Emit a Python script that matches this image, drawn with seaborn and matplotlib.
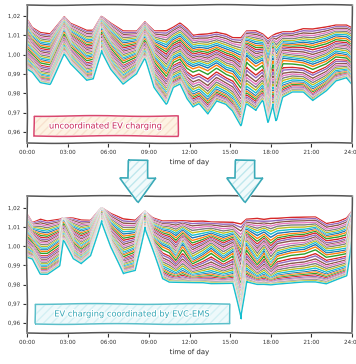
import numpy as np
import pandas as pd
import matplotlib
matplotlib.use("Agg")
import matplotlib.pyplot as plt
import seaborn as sns
from matplotlib import patheffects
from matplotlib.patches import Polygon, Rectangle
from matplotlib.ticker import FuncFormatter

# --- data (voltage in p.u., time in hours) ---
# top panel: upper / middle / lower envelope of the bundle of node voltages
t_top = [0, 0.4, 1.0, 1.7, 2.75, 3.2, 4.4, 4.9, 5.5, 6.2, 7.1, 8.1, 8.7, 9.4, 10.3, 10.8,
         11.3, 11.8, 12.25, 12.7, 13.35, 14.0, 14.7, 15.2, 15.8, 16.2, 16.9, 17.4, 17.8,
         18.15, 18.4, 18.9, 19.6, 20.4, 21.1, 22.1, 22.8, 23.6, 24.0]
top_upper = [1.0184, 1.0141, 1.0116, 1.0110, 1.0197, 1.0162, 1.0124, 1.0124, 1.0197, 1.0162,
             1.0124, 1.0124, 1.0172, 1.0124, 1.0124, 1.0141, 1.0162, 1.0133, 1.0098, 1.0103,
             1.0107, 1.0116, 1.0107, 1.0090, 1.0090, 1.0124, 1.0124, 1.0107, 1.0081, 1.0098,
             1.0107, 1.0116, 1.0116, 1.0133, 1.0133, 1.0145, 1.0155, 1.0155, 1.0141]
top_mid = [1.0055, 1.0021, 0.9978, 0.9969, 1.0124, 1.0055, 0.9986, 0.9995, 1.0133, 1.0055,
           0.9978, 1.0003, 1.0090, 0.9986, 0.9917, 0.9986, 1.0003, 0.9960, 0.9943, 0.9952,
           0.9934, 0.9960, 0.9926, 0.9917, 0.9866, 1.0003, 0.9960, 0.9978, 0.9831, 0.9986,
           0.9866, 0.9986, 0.9978, 0.9969, 0.9952, 0.9978, 1.0012, 1.0003, 0.9978]
top_lower = [0.9926, 0.9909, 0.9857, 0.9848, 1.0003, 0.9952, 0.9866, 0.9874, 1.0021, 0.9926,
             0.9848, 0.9900, 0.9978, 0.9831, 0.9745, 0.9831, 0.9848, 0.9771, 0.9728, 0.9745,
             0.9693, 0.9762, 0.9745, 0.9710, 0.9633, 0.9745, 0.9710, 0.9762, 0.9650, 0.9745,
             0.9659, 0.9779, 0.9805, 0.9805, 0.9762, 0.9814, 0.9866, 0.9883, 0.9848]

# bottom panel
t_bot = [0, 0.4, 1.0, 1.5, 2.4, 2.7, 3.4, 4.0, 4.7, 5.5, 6.2, 7.1, 8.0, 8.7, 9.3, 10.0,
         10.5, 11.0, 11.5, 12.2, 13.0, 13.6, 14.5, 15.2, 15.8, 16.2, 17.0, 17.5, 18.0,
         18.5, 19.5, 20.5, 21.3, 22.1, 23.0, 23.6, 24.0]
bot_upper = [1.0169, 1.0125, 1.0143, 1.0134, 1.0143, 1.0151, 1.0148, 1.0137, 1.0134, 1.0200,
             1.0169, 1.0143, 1.0137, 1.0186, 1.0151, 1.0134, 1.0134, 1.0134, 1.0134, 1.0130,
             1.0130, 1.0125, 1.0125, 1.0125, 1.0117, 1.0143, 1.0148, 1.0143, 1.0148, 1.0148,
             1.0151, 1.0151, 1.0151, 1.0117, 1.0130, 1.0148, 1.0186]
bot_mid = [1.0073, 1.0038, 0.9986, 0.9986, 1.0030, 1.0134, 1.0030, 0.9995, 1.0030, 1.0186,
           1.0047, 0.9960, 0.9986, 1.0169, 1.0047, 1.0012, 0.9995, 0.9943, 1.0012, 0.9925,
           0.9960, 0.9995, 0.9943, 0.9978, 0.9821, 1.0012, 0.9925, 0.9978, 0.9908, 0.9960,
           0.9978, 0.9986, 1.0012, 0.9969, 0.9978, 0.9986, 1.0134]
bot_lower = [0.9943, 0.9934, 0.9856, 0.9856, 0.9899, 1.0030, 0.9934, 0.9908, 0.9951, 1.0134,
             0.9995, 0.9856, 0.9873, 1.0099, 0.9978, 0.9830, 0.9812, 0.9812, 0.9812, 0.9812,
             0.9812, 0.9807, 0.9807, 0.9807, 0.9621, 0.9817, 0.9803, 0.9803, 0.9800, 0.9803,
             0.9807, 0.9812, 0.9812, 0.9803, 0.9830, 0.9847, 1.0047]

# relative position of each node inside the bundle (0 = top, 1 = bottom)
line_fracs = [0.0, 0.03, 0.06, 0.09, 0.12, 0.15, 0.18, 0.21, 0.24, 0.27, 0.30, 0.33, 0.36,
              0.39, 0.42, 0.45, 0.48, 0.51, 0.54, 0.58, 0.63, 0.66, 0.70, 0.73, 0.76, 0.79,
              0.82, 0.85, 0.87, 0.89, 0.91, 0.93, 0.95, 0.96, 0.97, 0.985, 1.0]

xtick_pos = [0, 3, 6, 9, 12, 15, 18, 21, 24]
xtick_labels = ["00:00", "03:00", "06:00", "09:00", "12:00", "15:00", "18:00", "21:00", "24:00"]
ytick_vals = [0.96, 0.97, 0.98, 0.99, 1.00, 1.01, 1.02]

# --- style ---
sns.set_theme(style="ticks")
plt.xkcd(scale=0.4, length=120, randomness=2)
plt.rcParams.update({
    "font.family": ["DejaVu Sans"],
    "path.effects": [patheffects.withStroke(linewidth=1.5, foreground="w")],
    "axes.linewidth": 1.1,
    "axes.edgecolor": "#555555",
    "xtick.major.size": 3,
    "ytick.major.size": 3,
    "xtick.major.width": 0.8,
    "ytick.major.width": 0.8,
    "xtick.color": "#333333",
    "ytick.color": "#333333",
})

tab10 = sns.color_palette("tab10")
palette = [tab10[(k + 3) % 10] for k in range(len(line_fracs))]


def bundle(t, upper, mid, lower):
    upper, mid, lower = np.array(upper), np.array(mid), np.array(lower)
    frames = []
    for k, f in enumerate(line_fracs):
        if f <= 0.5:
            v = upper + (mid - upper) * (f / 0.5)
        else:
            v = mid + (lower - mid) * ((f - 0.5) / 0.5)
        frames.append(pd.DataFrame({"time": t, "voltage": v, "node": f"n{k:02d}"}))
    return pd.concat(frames, ignore_index=True)


def draw_panel(ax, df, ylim):
    sns.lineplot(data=df, x="time", y="voltage", hue="node", palette=palette,
                 legend=False, estimator=None, sort=False, lw=1.0, ax=ax)
    ax.set_xlim(0, 24)
    ax.set_ylim(*ylim)
    ax.set_xticks(xtick_pos)
    ax.set_xticklabels(xtick_labels, fontsize=4)
    ax.set_yticks(ytick_vals)
    ax.yaxis.set_major_formatter(FuncFormatter(lambda v, p: f"{v:.2f}".replace(".", ",")))
    ax.tick_params(axis="y", labelsize=4, pad=2)
    ax.tick_params(axis="x", pad=2)
    ax.set_xlabel("time of day", fontsize=5, labelpad=3)
    ax.set_ylabel("voltage in p.u.", fontsize=5)
    ax.yaxis.set_label_coords(-0.09, 0.5)
    for s in ax.spines.values():
        s.set_visible(True)


def label_box(ax, x0, y0, x1, y1, text, fc, hc, ec, tc):
    ax.add_patch(Rectangle((x0, y0), x1 - x0, y1 - y0, transform=ax.transAxes, fc=fc,
                           ec=hc, lw=0, hatch="////", zorder=5))
    ax.add_patch(Rectangle((x0, y0), x1 - x0, y1 - y0, transform=ax.transAxes, fill=False,
                           ec=ec, lw=1.1, zorder=6))
    ax.text((x0 + x1) / 2, (y0 + y1) / 2, text, transform=ax.transAxes, ha="center",
            va="center", fontsize=6, color=tc, zorder=7)


fig = plt.figure(figsize=(3.56, 3.64), dpi=100)
W, H = 356, 364
ax_top = fig.add_axes([27 / W, 1 - 143 / H, 325 / W, 138 / H])
ax_bot = fig.add_axes([27 / W, 1 - 333 / H, 325 / W, 137 / H])

draw_panel(ax_top, bundle(t_top, top_upper, top_mid, top_lower), (0.9543, 1.0257))
draw_panel(ax_bot, bundle(t_bot, bot_upper, bot_mid, bot_lower), (0.9547, 1.0263))

label_box(ax_top, 0.022, 0.051, 0.465, 0.196, "uncoordinated EV charging",
          "#fdf3e3", "#f8e2cf", "#d9476e", "#c8285a")
label_box(ax_bot, 0.025, 0.066, 0.625, 0.212, "EV charging coordinated by EVC-EMS",
          "#eef9fb", "#d4f0f4", "#5bbfca", "#35a7b6")

# the two down arrows between the panels (pixel outline -> figure fraction)
for cx in (138, 245):
    pts = [(cx - 10, 160), (cx + 10, 160), (cx + 10, 178), (cx + 18, 178),
           (cx, 202), (cx - 18, 178), (cx - 10, 178)]
    pts = [(x / W, 1 - y / H) for x, y in pts]
    fig.add_artist(Polygon(pts, closed=True, transform=fig.transFigure, fc="#f1fafb",
                           ec="#bfe7ed", lw=0, hatch="////", zorder=3))
    fig.add_artist(Polygon(pts, closed=True, transform=fig.transFigure, fill=False,
                           ec="#3aaab8", lw=1.2, zorder=4))

fig.savefig("out.png", dpi=100)
